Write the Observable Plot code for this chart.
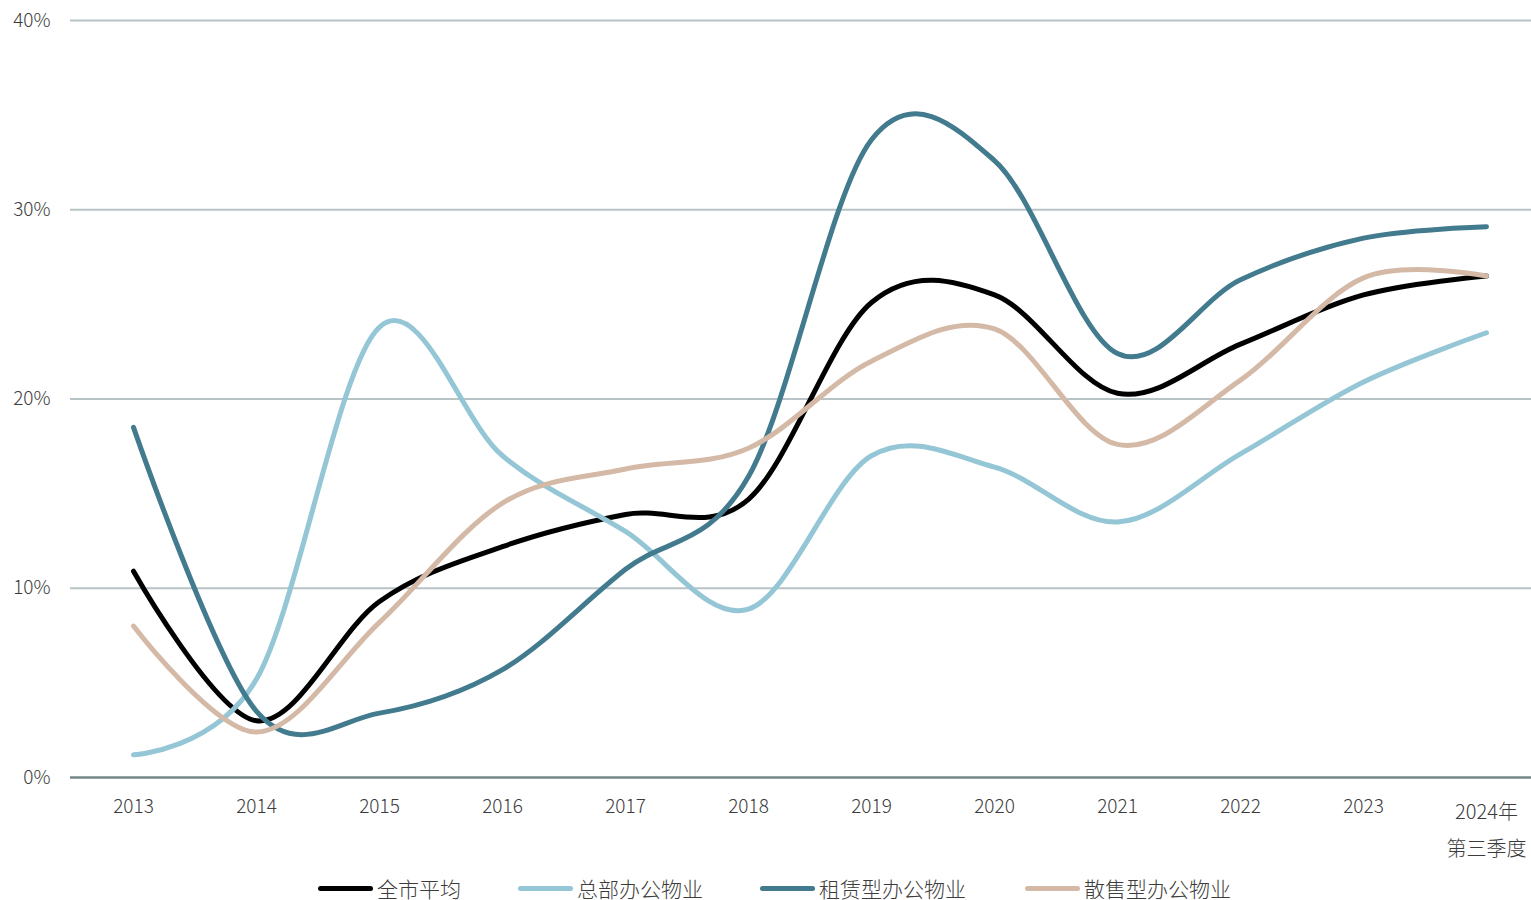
<!DOCTYPE html>
<html>
<head>
<meta charset="utf-8">
<script src="https://cdn.jsdelivr.net/npm/d3@7"></script>
<script src="https://cdn.jsdelivr.net/npm/@observablehq/plot@0.6"></script>
<style>
  html, body { margin: 0; padding: 0; background: #fff; }
  body { width: 1531px; font-family: "Noto Sans CJK SC", "Noto Sans", sans-serif; font-weight: 300; }
  #chart svg { display: block; }
  #legend { position: relative; height: 30px; width: 1531px; }
  .item { position: absolute; top: 3px; display: flex; align-items: center; height: 30px; font-size: 21px; color: #3c3c3c; }
  .sw { width: 55px; height: 5px; border-radius: 3px; margin-right: 4px; }
</style>
</head>
<body>
<div id="chart"></div>
<div id="legend"></div>
<script>
const categories = ["2013","2014","2015","2016","2017","2018","2019","2020","2021","2022","2023","2024年\n第三季度"];
const seriesNames = ["全市平均","总部办公物业","租赁型办公物业","散售型办公物业"];
const cityAvg   = [10.9, 3.0, 9.3, 12.2, 13.9, 14.7, 25.1, 25.5, 20.3, 22.9, 25.5, 26.5];
const hqOffice  = [1.2, 5.2, 23.8, 17.0, 13.0, 8.9, 17.0, 16.4, 13.5, 17.1, 20.9, 23.5];
const leaseOffice = [18.5, 3.5, 3.4, 5.7, 11.0, 15.9, 33.7, 32.6, 22.4, 26.3, 28.5, 29.1];
const strataOffice = [8.0, 2.4, 8.2, 14.5, 16.3, 17.4, 22.0, 23.7, 17.6, 21.0, 26.4, 26.5];
const colors = ["#000000", "#94c6d6", "#427a8e", "#d4b9a7"];
const yTicks = [0, 10, 20, 30, 40];

const seriesValues = [cityAvg, hqOffice, leaseOffice, strataOffice];
const data = [];
seriesNames.forEach((s, i) => categories.forEach((c, j) => data.push({series: s, cat: c, v: seriesValues[i][j]})));

const lastCat = categories[categories.length - 1];
const chart = Plot.plot({
  width: 1531,
  height: 870,
  marginLeft: 70,
  marginRight: 0,
  marginTop: 20,
  marginBottom: 93,
  style: {fontFamily: '"Noto Sans CJK SC", "Noto Sans", sans-serif', fontWeight: 300, color: "#3c3c3c", background: "#fff"},
  x: {type: "point", domain: categories, range: [132, 1486], padding: 0},
  y: {domain: [0, 40], range: [777, 20]},
  color: {domain: seriesNames, range: colors},
  marks: [
    Plot.ruleY(yTicks.filter(d => d > 0), {stroke: "#b8c3c5", strokeWidth: 2}),
    Plot.ruleY([0], {stroke: "#76878a", strokeWidth: 2.5}),
    Plot.axisY({ticks: yTicks, tickFormat: d => d + "%", tickSize: 0, tickPadding: 20, fontSize: 19, label: null}),
    Plot.axisX({ticks: categories.slice(0, -1), tickSize: 0, tickPadding: 22, fontSize: 19, label: null}),
    Plot.axisX({ticks: [lastCat], tickSize: 0, tickPadding: 15, fontSize: 20, lineHeight: 1.85, label: null}),
    Plot.line(data, {x: "cat", y: "v", z: "series", stroke: "series", curve: "cardinal", strokeWidth: 5, strokeLinecap: "round", strokeLinejoin: "round"})
  ]
});
document.getElementById("chart").appendChild(chart);

const legendX = [318, 518, 760, 1025];
const legend = document.getElementById("legend");
seriesNames.forEach((s, i) => {
  const it = document.createElement("div");
  it.className = "item";
  it.style.left = legendX[i] + "px";
  it.innerHTML = `<span class="sw" style="background:${colors[i]}"></span><span>${s}</span>`;
  legend.appendChild(it);
});
</script>
</body>
</html>
